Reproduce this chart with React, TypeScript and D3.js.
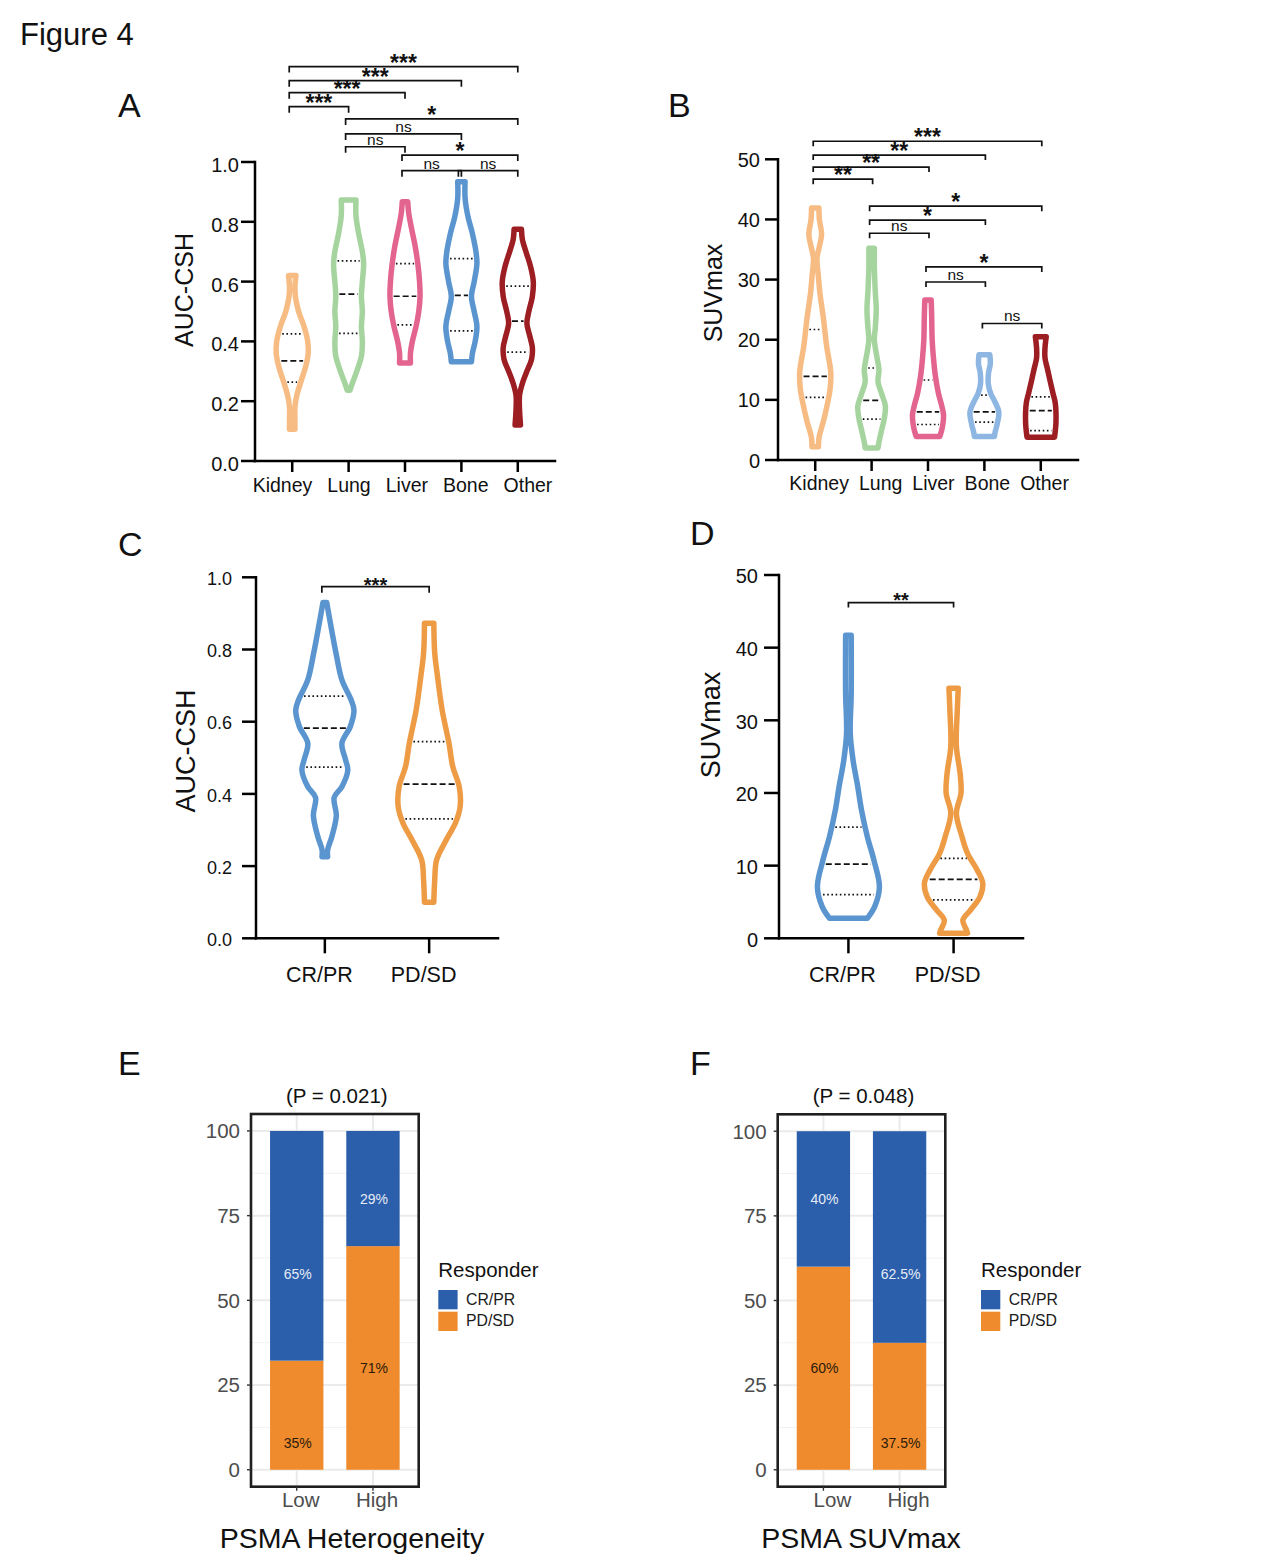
import * as d3 from 'd3'
import React from 'react'

const FONT = '"Liberation Sans", Arial, Helvetica, sans-serif'

// ---------- categories
const sites = ['Kidney', 'Lung', 'Liver', 'Bone', 'Other']
const responders = ['CR/PR', 'PD/SD']
const levels = ['Low', 'High']

// ---------- A: AUC-CSH by site, violin outline as [value, relative half width]
const aucKidney = [[0.62, 0.23], [0.58, 0.17], [0.55, 0.2], [0.5, 0.4], [0.45, 0.74], [0.4, 0.97], [0.36, 1], [0.32, 0.86], [0.27, 0.57], [0.22, 0.29], [0.18, 0.17], [0.13, 0.17], [0.106, 0.17]]
const aucLung = [[0.873, 0.46], [0.82, 0.46], [0.76, 0.63], [0.7, 0.86], [0.66, 0.94], [0.6, 0.86], [0.55, 0.8], [0.5, 0.86], [0.45, 0.8], [0.4, 0.86], [0.35, 0.8], [0.3, 0.51], [0.26, 0.23], [0.237, 0.09]]
const aucLiver = [[0.867, 0.17], [0.83, 0.23], [0.78, 0.4], [0.72, 0.63], [0.66, 0.8], [0.6, 0.91], [0.55, 0.94], [0.5, 0.86], [0.45, 0.69], [0.4, 0.46], [0.36, 0.34], [0.328, 0.34]]
const aucBone = [[0.934, 0.23], [0.88, 0.23], [0.82, 0.4], [0.76, 0.69], [0.7, 0.91], [0.66, 0.97], [0.6, 0.8], [0.55, 0.63], [0.5, 0.8], [0.45, 0.97], [0.4, 0.86], [0.36, 0.69], [0.332, 0.63]]
const aucOther = [[0.775, 0.23], [0.74, 0.29], [0.7, 0.51], [0.65, 0.8], [0.6, 0.97], [0.55, 0.91], [0.5, 0.69], [0.46, 0.57], [0.42, 0.74], [0.38, 0.91], [0.34, 0.86], [0.3, 0.57], [0.26, 0.29], [0.22, 0.11], [0.17, 0.11], [0.12, 0.17]]
// q1, median, q3
const aucSiteQuart = [[0.264, 0.335, 0.425], [0.427, 0.558, 0.669], [0.455, 0.551, 0.66], [0.435, 0.554, 0.677], [0.364, 0.468, 0.585]]
// from, to, label, height (data units)
const aucSiteSig = [[0, 4, '***', 1.319], [0, 3, '***', 1.272], [0, 2, '***', 1.232], [0, 1, '***', 1.185], [1, 4, '*', 1.144], [1, 3, 'ns', 1.094], [1, 2, 'ns', 1.051], [2, 4, '*', 1.023], [2, 3, 'ns', 0.971], [3, 4, 'ns', 0.971]]

// ---------- B: SUVmax by site
const suvKidney = [[41.9, 0.23], [40, 0.26], [37.5, 0.4], [35.5, 0.26], [33.5, 0.11], [30.5, 0.2], [27.8, 0.29], [23.4, 0.52], [19, 0.71], [14.6, 0.97], [11.8, 0.93], [9.3, 0.76], [6.5, 0.52], [3.8, 0.24], [2.2, 0.2]]
const suvLung = [[35.2, 0.17], [32, 0.17], [28, 0.23], [25, 0.29], [22, 0.23], [20, 0.17], [17, 0.34], [15, 0.46], [13, 0.4], [11, 0.63], [9, 0.86], [7, 0.8], [5, 0.63], [3, 0.46], [2, 0.4]]
const suvLiver = [[26.6, 0.2], [24, 0.23], [20, 0.26], [17, 0.34], [14, 0.46], [11, 0.66], [9, 0.86], [7.5, 0.97], [5.5, 0.9], [3.9, 0.74]]
const suvBone = [[17.5, 0.34], [16, 0.37], [14.5, 0.26], [12.7, 0.24], [11, 0.4], [10, 0.6], [8, 0.9], [6, 0.8], [4.5, 0.66], [3.9, 0.63]]
const suvOther = [[20.5, 0.34], [18.5, 0.26], [17, 0.26], [15, 0.43], [13.3, 0.57], [11, 0.77], [9.6, 0.9], [6.3, 0.95], [3.8, 0.86]]
const suvSiteQuart = [[10.4, 13.9, 21.7], [6.8, 9.9, 15.3], [5.9, 8.0, 13.3], [6.3, 8.0, 10.8], [4.9, 8.2, 10.5]]
const suvSiteSig = [[0, 4, '***', 53.0], [0, 3, '**', 50.7], [0, 2, '**', 48.7], [0, 1, '**', 46.7], [1, 4, '*', 42.2], [1, 3, '*', 39.9], [1, 2, 'ns', 37.7], [2, 4, '*', 32.1], [2, 3, 'ns', 29.6], [3, 4, 'ns', 22.7]]

// ---------- C: AUC-CSH by response
const aucCR = [[0.93, 0.06], [0.863, 0.2], [0.79, 0.36], [0.716, 0.55], [0.66, 0.85], [0.632, 0.94], [0.586, 0.82], [0.54, 0.55], [0.494, 0.67], [0.466, 0.74], [0.42, 0.55], [0.39, 0.3], [0.34, 0.37], [0.28, 0.22], [0.245, 0.09], [0.226, 0.09]]
const aucPD = [[0.873, 0.15], [0.79, 0.18], [0.725, 0.27], [0.632, 0.42], [0.54, 0.64], [0.476, 0.76], [0.42, 0.97], [0.365, 1], [0.32, 0.85], [0.272, 0.55], [0.217, 0.24], [0.162, 0.18], [0.1, 0.15]]
const aucRespQuart = [[0.474, 0.582, 0.671], [0.331, 0.427, 0.545]]
const aucRespSig = [[0, 1, '***', 0.974]]

// ---------- D: SUVmax by response
const suvCR = [[41.7, 0.09], [33.7, 0.09], [28.2, 0.06], [24.5, 0.15], [20.9, 0.3], [17.7, 0.42], [14, 0.61], [10.8, 0.82], [7.1, 1], [4.4, 0.85], [2.75, 0.61]]
const suvPD = [[34.4, 0.15], [31.4, 0.12], [26.4, 0.09], [22.7, 0.21], [20, 0.24], [17.2, 0.09], [14, 0.27], [11.7, 0.45], [9.4, 0.76], [7.6, 0.94], [5.7, 0.85], [3.9, 0.55], [2.5, 0.3], [1.1, 0.42], [0.7, 0.45]]
const suvRespQuart = [[6.0, 10.2, 15.3], [5.3, 8.1, 11.0]]
const suvRespSig = [[0, 1, '**', 46.2]]

// ---------- E / F: responder share (%) per Low / High group
const hetCR = [67.8, 34]
const hetPD = [32.2, 66]
const hetCRText = ['65%', '29%']
const hetPDText = ['35%', '71%']
const hetCRAt = [57.9, 80]
const hetPDAt = [7.8, 30]

const suvGrpCR = [40, 62.5]
const suvGrpPD = [60, 37.5]
const suvGrpCRText = ['40%', '62.5%']
const suvGrpPDText = ['60%', '37.5%']
const suvGrpCRAt = [80, 57.9]
const suvGrpPDAt = [30, 7.8]

const siteColA = ['#F6BC83', '#A6D49F', '#E3648E', '#5B95D0', '#9C1D22']
const siteColB = ['#F6BC83', '#A6D49F', '#E3648E', '#8EB6E3', '#9C1D22']
const respCol = ['#5B95CF', '#EE9B45']
const barBlue = '#2B5EAB'
const barOrange = '#EF8B2C'

const ViolinPanel = (p: any) => {
  const x = d3.scalePoint().domain(p.cats).range([p.x0, p.x1]).padding(0.66)
  const y = d3.scaleLinear().domain([0, p.ymax]).range([p.yBot, p.yTop])
  const w = d3.scaleLinear().domain([0, 1]).range([0, p.maxHalf])
  return (
    <g fontFamily={FONT}>
      {p.cats.map((c: string, i: number) => {
        const cx = x(c) as number
        const prof = p.profiles[i]
        const area = d3.area<number[]>()
          .y(d => y(d[0]))
          .x0(d => cx - w(d[1]))
          .x1(d => cx + w(d[1]))
          .curve(d3.curveCatmullRom.alpha(0.5))
        const half = d3.scaleLinear().domain(prof.map((d: number[]) => d[0])).range(prof.map((d: number[]) => d[1])).clamp(true)
        return (
          <g key={c}>
            <path d={area(prof) as string} fill="none" stroke={p.colors[i]} strokeWidth={5.5} strokeLinejoin="round" />
            {p.quarts[i].map((q: number, k: number) => {
              const hw = Math.max(1.5, w(half(q)) - 3.7)
              return <line key={k} x1={cx - hw} x2={cx + hw} y1={y(q)} y2={y(q)} stroke="#111"
                strokeWidth={1.7} strokeDasharray={k === 1 ? '6,3' : '1.6,2.6'} />
            })}
          </g>
        )
      })}
      {/* axes */}
      <line x1={p.x0} x2={p.x0} y1={p.yTop} y2={p.yBot} stroke="#000" strokeWidth={2.5} strokeLinecap="square" />
      <line x1={p.x0} x2={p.x1} y1={p.yBot} y2={p.yBot} stroke="#000" strokeWidth={2.5} strokeLinecap="square" />
      {p.ticks.map((t: number) => (
        <g key={t}>
          <line x1={p.x0 - p.yTick} x2={p.x0} y1={y(t)} y2={y(t)} stroke="#000" strokeWidth={2.5} />
          <text x={p.x0 - p.yTick - p.tickGap} y={y(t) + p.labelDy} textAnchor="end" fontSize={p.tickFont} fill="#111">{p.fmt(t)}</text>
        </g>
      ))}
      {p.cats.map((c: string) => (
        <line key={c} x1={x(c)} x2={x(c)} y1={p.yBot} y2={p.yBot + p.xTick} stroke="#000" strokeWidth={2.5} />
      ))}
      {p.catRow
        ? <text x={p.catRow.x} y={p.catRow.y} fontSize={p.catFont} fill="#111" style={{ wordSpacing: `${p.catRow.ws}px` }}>{p.cats.join(' ')}</text>
        : p.cats.map((c: string) => (
          <text key={c} x={(x(c) as number) + p.catDx} y={p.catY} textAnchor="middle" fontSize={p.catFont} fill="#111">{c}</text>
        ))}
      <text transform={`translate(${p.titleX},${p.titleY}) rotate(-90)`} textAnchor="middle" fontSize={p.titleFont} fill="#111">{p.title}</text>
      {/* significance brackets */}
      {p.sig.map((s: any[], i: number) => {
        const xa = (x(p.cats[s[0]]) as number) + p.bOff[0]
        const xb = (x(p.cats[s[1]]) as number) + p.bOff[1]
        const yy = y(s[3])
        const star = s[2] !== 'ns'
        return (
          <g key={i}>
            <path d={`M${xa},${yy + p.tip}V${yy}H${xb}V${yy + p.tip}`} fill="none" stroke="#111" strokeWidth={1.7} />
            <text x={(xa + xb) / 2} y={star ? yy - p.starGap + 0.43 * p.starFont : yy - 2}
              textAnchor="middle" fontSize={star ? p.starFont : p.nsFont} fontWeight={star ? 'bold' : 'normal'} fill="#111">{s[2]}</text>
          </g>
        )
      })}
    </g>
  )
}

const StackPanel = (p: any) => {
  const x = d3.scaleBand().domain(levels).range([p.left, p.right]).paddingInner(0.3).paddingOuter(0.25)
  const y = d3.scaleLinear().domain([-5, 105]).range([p.bottom, p.top])
  const rows = levels.map((l, i) => ({ level: l, pd: p.pd[i], cr: p.cr[i] }))
  const series = d3.stack<any>().keys(['pd', 'cr'])(rows)
  const fills: Record<string, string> = { pd: barOrange, cr: barBlue }
  const major = [0, 25, 50, 75, 100]
  const minor = [12.5, 37.5, 62.5, 87.5]
  const bw = x.bandwidth()
  return (
    <g fontFamily={FONT}>
      <rect x={p.left} y={p.top} width={p.right - p.left} height={p.bottom - p.top} fill="#fff" />
      {minor.map(v => <line key={v} x1={p.left} x2={p.right} y1={y(v)} y2={y(v)} stroke="#F2F2F2" strokeWidth={1} />)}
      {major.map(v => <line key={v} x1={p.left} x2={p.right} y1={y(v)} y2={y(v)} stroke="#EBEBEB" strokeWidth={2} />)}
      {levels.map(l => <line key={l} x1={(x(l) as number) + bw / 2} x2={(x(l) as number) + bw / 2} y1={p.top} y2={p.bottom} stroke="#EBEBEB" strokeWidth={2} />)}
      {series.map(s => s.map((d, i) => (
        <rect key={s.key + i} x={x(levels[i])} width={bw} y={y(d[1])} height={y(d[0]) - y(d[1])} fill={fills[s.key]} />
      )))}
      {levels.map((l, i) => (
        <g key={l} fontSize={14}>
          <text x={(x(l) as number) + bw / 2 + 1} y={y(p.crAt[i]) + 5} textAnchor="middle" fill="#E6ECF6">{p.crText[i]}</text>
          <text x={(x(l) as number) + bw / 2 + 1} y={y(p.pdAt[i]) + 5} textAnchor="middle" fill="#2B1A0A">{p.pdText[i]}</text>
        </g>
      ))}
      <rect x={p.left} y={p.top} width={p.right - p.left} height={p.bottom - p.top} fill="none" stroke="#1F1F1F" strokeWidth={2.6} />
      {major.map(v => (
        <g key={v}>
          <line x1={p.left - 4} x2={p.left} y1={y(v)} y2={y(v)} stroke="#333" strokeWidth={1.4} />
          <text x={p.left - 11} y={y(v) + 7.3} textAnchor="end" fontSize={20.5} fill="#4D4D4D">{v}</text>
        </g>
      ))}
      {levels.map(l => (
        <g key={l}>
          <line x1={(x(l) as number) + bw / 2} x2={(x(l) as number) + bw / 2} y1={p.bottom} y2={p.bottom + 4} stroke="#333" strokeWidth={1.4} />
          <text x={(x(l) as number) + bw / 2 + p.xDx} y={p.bottom + 20} textAnchor="middle" fontSize={20.5} fill="#4D4D4D">{l}</text>
        </g>
      ))}
      <text x={(p.left + p.right) / 2 + 2} y={p.top - 11} textAnchor="middle" fontSize={20.5} fill="#111">{p.pTitle}</text>
      <text x={p.legendX} y={1277.3} fontSize={20.5} fill="#111">Responder</text>
      {responders.map((r, i) => (
        <g key={r}>
          <rect x={p.legendX} y={1290 + i * 21.7} width={19.3} height={19.3} fill={i === 0 ? barBlue : barOrange} />
          <text x={p.legendX + 27.7} y={1304.5 + i * 21} fontSize={15.8} fill="#1A1A1A">{r}</text>
        </g>
      ))}
      <text x={p.titleX} y={1548} textAnchor="middle" fontSize={28.5} fill="#111">{p.bottomTitle}</text>
    </g>
  )
}

const letters = [['A', 118, 117], ['B', 668, 117], ['C', 118, 556], ['D', 690, 545], ['E', 118, 1075], ['F', 690, 1075]]

export default function App() {
  const f1 = d3.format('.1f')
  const f0 = d3.format('d')
  return (
    <div style={{ position: 'absolute', left: 0, top: 0 }}>
      <svg width={1269} height={1568} style={{ display: 'block', background: '#fff' }}>
        <rect width={1269} height={1568} fill="#fff" />
        <text x={20} y={45} fontFamily={FONT} fontSize={31} fill="#111">Figure 4</text>
        {letters.map(l => (
          <text key={l[0] as string} x={l[1]} y={l[2]} fontFamily={FONT} fontSize={34} fill="#111">{l[0]}</text>
        ))}
        <ViolinPanel cats={sites} profiles={[aucKidney, aucLung, aucLiver, aucBone, aucOther]} quarts={aucSiteQuart}
          colors={siteColA} sig={aucSiteSig} ymax={1} ticks={[0, 0.2, 0.4, 0.6, 0.8, 1]} fmt={f1}
          x0={255} x1={555} yTop={162} yBot={461} maxHalf={16} yTick={14} xTick={11} tickGap={2} labelDy={10}
          tickFont={20} catFont={19.5} catRow={{ x: 252.7, y: 492, ws: 9.6 }}
          title="AUC-CSH" titleX={193} titleY={290} titleFont={25}
          starFont={23} starGap={6} nsFont={15.5} bOff={[-3, 0]} tip={6} />
        <ViolinPanel cats={sites} profiles={[suvKidney, suvLung, suvLiver, suvBone, suvOther]} quarts={suvSiteQuart}
          colors={siteColB} sig={suvSiteSig} ymax={50} ticks={[0, 10, 20, 30, 40, 50]} fmt={f0}
          x0={778} x1={1078} yTop={159.3} yBot={460} maxHalf={16} yTick={13} xTick={11} tickGap={5} labelDy={7.5}
          tickFont={20} catFont={19.5} catRow={{ x: 789.3, y: 490, ws: 4.6 }}
          title="SUVmax" titleX={722} titleY={293} titleFont={25}
          starFont={23} starGap={6} nsFont={15.5} bOff={[-2, 1]} tip={5} />
        <ViolinPanel cats={responders} profiles={[aucCR, aucPD]} quarts={aucRespQuart}
          colors={respCol} sig={aucRespSig} ymax={1} ticks={[0, 0.2, 0.4, 0.6, 0.8, 1]} fmt={f1}
          x0={256} x1={498} yTop={577.3} yBot={938.3} maxHalf={31} yTick={14} xTick={15} tickGap={10} labelDy={7.7}
          tickFont={18} catFont={21.5} catY={982} catDx={-5.5}
          title="AUC-CSH" titleX={195} titleY={751} titleFont={27}
          starFont={20} starGap={3} nsFont={15} bOff={[-3, 0]} tip={6} />
        <ViolinPanel cats={responders} profiles={[suvCR, suvPD]} quarts={suvRespQuart}
          colors={respCol} sig={suvRespSig} ymax={50} ticks={[0, 10, 20, 30, 40, 50]} fmt={f0}
          x0={779} x1={1023} yTop={575} yBot={938.3} maxHalf={31} yTick={15} xTick={15} tickGap={6} labelDy={8.3}
          tickFont={20} catFont={21.5} catY={982} catDx={-6}
          title="SUVmax" titleX={720} titleY={725} titleFont={27}
          starFont={20} starGap={4} nsFont={15} bOff={[0, 0]} tip={5} />
        <StackPanel left={251} right={418.7} top={1114} bottom={1486.7} cr={hetCR} pd={hetPD}
          crText={hetCRText} pdText={hetPDText} crAt={hetCRAt} pdAt={hetPDAt}
          pTitle="(P = 0.021)" legendX={438.3} titleX={352} bottomTitle="PSMA Heterogeneity" xDx={4} />
        <StackPanel left={777.7} right={945.3} top={1114.3} bottom={1486.7} cr={suvGrpCR} pd={suvGrpPD}
          crText={suvGrpCRText} pdText={suvGrpPDText} crAt={suvGrpCRAt} pdAt={suvGrpPDAt}
          pTitle="(P = 0.048)" legendX={981} titleX={861} bottomTitle="PSMA SUVmax" xDx={9} />
      </svg>
    </div>
  )
}
